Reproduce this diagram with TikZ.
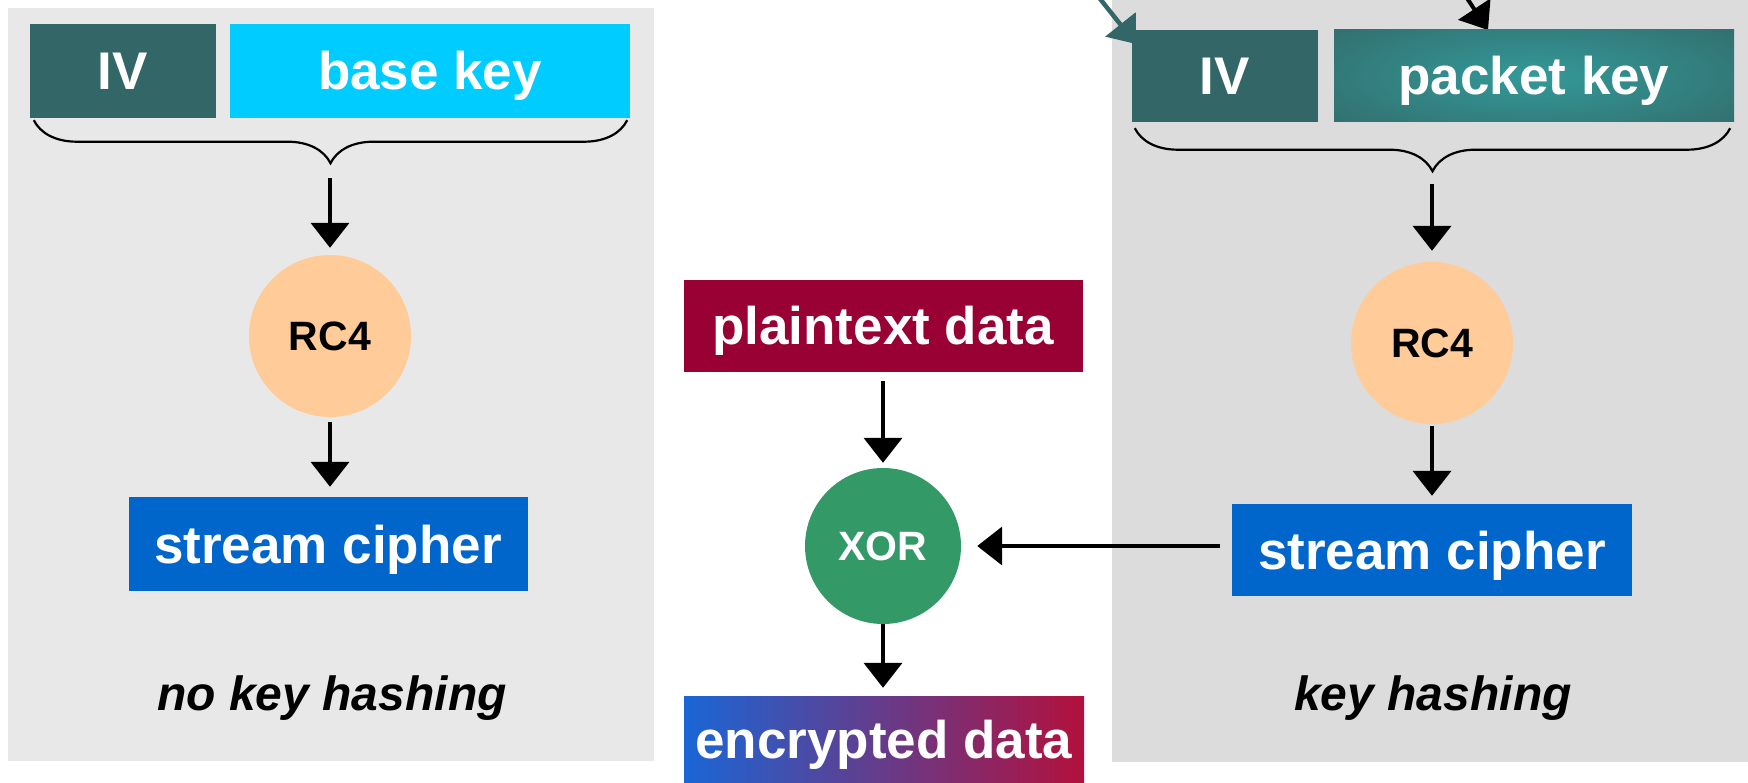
\documentclass[tikz,border=0pt]{standalone}
\usepackage{fontspec}
\setmainfont{Liberation Sans}
\usetikzlibrary{arrows.meta,decorations.pathreplacing}
\definecolor{panelL}{HTML}{E8E8E8}
\definecolor{panelR}{HTML}{DCDCDC}
\definecolor{ivc}{HTML}{336666}
\definecolor{glow}{HTML}{339999}
\definecolor{keyc}{HTML}{00CCFF}
\definecolor{rcc}{HTML}{FFCC99}
\definecolor{scc}{HTML}{0066CC}
\definecolor{ptc}{HTML}{990033}
\definecolor{xorc}{HTML}{339966}
\definecolor{encL}{HTML}{1A66D6}
\definecolor{encR}{HTML}{B3103C}
\begin{document}
\begin{tikzpicture}[x=1pt,y=-1pt,
  box/.style={rectangle, inner sep=0pt, text=white,
    font=\fontsize{53}{60}\selectfont\bfseries, text height=38pt, text depth=0pt},
  circ/.style={circle, inner sep=0pt, minimum size=#1,
    font=\fontsize{41}{48}\selectfont\bfseries, text height=29pt, text depth=0pt},
  lab/.style={font=\fontsize{48}{56}\selectfont\bfseries\itshape, anchor=base, inner sep=0pt},
  arr/.style={line width=4pt, -{Triangle[length=25pt,width=38pt]}},
  tarr/.style={line width=4.5pt, draw=ivc, -{Triangle[length=25pt,width=38pt]}},
  brc/.style={line width=2.2pt, decorate, decoration={brace, mirror, amplitude=43pt}},
]
\useasboundingbox (0,0) rectangle (1748,783);
% panels
\fill[panelL] (8,8) rectangle (654,761);
\fill[panelR] (1112,-5) rectangle (1760,762);
% incoming arrows from outside
\coordinate (srcT) at (1093,-10);
\coordinate (tipT) at (1136,44);
\coordinate (srcB) at (1455,-20);
\coordinate (tipB) at (1488,30);
\draw[tarr] (srcT) -- (tipT);
\draw[arr] (srcB) -- (tipB);
% left column
\node[box, fill=ivc, minimum width=186pt, minimum height=94pt] (ivL) at (123,71) {IV};
\node[box, fill=keyc, minimum width=400pt, minimum height=94pt] (bk) at (430,71) {base key};
\node[circ=162pt, fill=rcc] (rcL) at (330,336) {RC4};
\node[box, fill=scc, minimum width=399pt, minimum height=94pt] (scL) at (328,544) {stream cipher};
\node[lab] (nkh) at (332,710) {no key hashing};
\draw[brc] ([xshift=4pt,yshift=-2pt]ivL.south west) -- ([xshift=-3pt,yshift=-2pt]bk.south east);
\coordinate (tipL) at (330,163);
\draw[arr, shorten <=15pt, shorten >=7pt] (tipL) -- (rcL);
\draw[arr, shorten <=5pt, shorten >=10pt] (rcL) -- (rcL |- scL.north);
% middle column
\node[box, fill=ptc, minimum width=399pt, minimum height=92pt] (pt) at (883,326) {plaintext data};
\node[circ=156pt, fill=xorc, text=white] (xor) at (883,546) {XOR};
\node[box, left color=encL, right color=encR, minimum width=400pt, minimum height=86pt] (enc) at (884,739) {encrypted data};
\draw[arr, shorten <=9pt, shorten >=5pt] (pt) -- (xor);
\draw[arr, shorten <=0pt, shorten >=8pt] (xor) -- (xor |- enc.north);
% right column
\node[box, fill=ivc, minimum width=186pt, minimum height=92pt] (ivR) at (1225,76) {IV};
\node[box, fill=ivc, minimum width=400pt, minimum height=92pt,
  path picture={\shade[inner color=glow, outer color=ivc] (path picture bounding box.center) ellipse [x radius=320pt, y radius=90pt];}] (pk) at (1534,76) {packet key};
\node[circ=162pt, fill=rcc] (rcR) at (1432,343) {RC4};
\node[box, fill=scc, minimum width=400pt, minimum height=92pt] (scR) at (1432,550) {stream cipher};
\node[lab] (kh) at (1433,710) {key hashing};
\draw[brc] ([xshift=3pt,yshift=-6pt]ivR.south west) -- ([xshift=-4pt,yshift=-6pt]pk.south east);
\coordinate (tipR) at (1432,171);
\draw[arr, shorten <=13pt, shorten >=11pt] (tipR) -- (rcR);
\draw[arr, shorten <=2pt, shorten >=8pt] (rcR) -- (scR);
\draw[arr, shorten <=12pt, shorten >=16pt] (scR.west |- xor.east) -- (xor.east);
\end{tikzpicture}
\end{document}
